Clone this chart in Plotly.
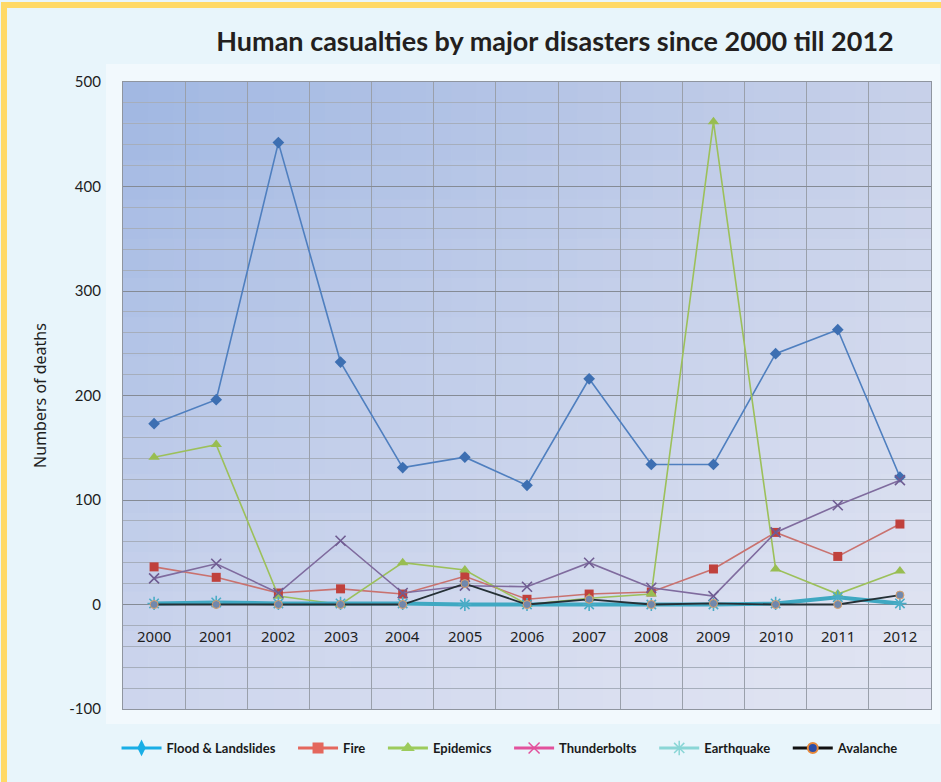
import plotly.graph_objects as go

# Categories and series (deaths per year)
years = ["2000", "2001", "2002", "2003", "2004", "2005", "2006",
         "2007", "2008", "2009", "2010", "2011", "2012"]
flood = [173, 196, 442, 232, 131, 141, 114, 216, 134, 134, 240, 263, 122]
fire = [36, 26, 11, 15, 10, 27, 5, 10, 12, 34, 69, 46, 77]
epidemics = [141, 153, 8, 0, 40, 33, 0, 6, 10, 462, 34, 10, 32]
thunderbolts = [25, 39, 11, 61, 11, 18, 17, 40, 16, 8, 69, 95, 119]
earthquake = [1, 2, 1, 1, 1, 0, 0, 0, 0, 0, 1, 7, 1]
avalanche = [0, 0, 0, 0, 0, 20, 0, 5, 0, 1, 0, 0, 9]
y_ticks = [-100, 0, 100, 200, 300, 400, 500]
y_tick_text = ["-100", "0", "100", "200", "300", "400", "500"]

W, H = 941, 782
ML, MR, MT, MB = 123, 10, 82, 73
PW, PH = W - ML - MR, H - MT - MB


def px_x(px):
    return (px - ML) / PW


def px_y(py):
    return (H - MB - py) / PH


fig = go.Figure()

# (name, data, line colour, line width, marker symbol, marker colour, marker size, marker outline)
series = [
    ("Flood & Landslides", flood, "#4f7fbf", 1.6, "diamond", "#3d6fb2", 9, None),
    ("Fire", fire, "#c9726f", 1.6, "square", "#c0413c", 9, None),
    ("Epidemics", epidemics, "#9cc05a", 1.6, "triangle-up", "#98bd52", 10, None),
    ("Thunderbolts", thunderbolts, "#7f6b9e", 1.6, "x-thin", "#6f5c92", 10, None),
    ("Earthquake", earthquake, "#3fa8c2", 4, "asterisk", "#4bacc6", 11, None),
    ("Avalanche", avalanche, "#253036", 1.8, "circle", "#7088ad", 8, "#d9a06a"),
]

for name, vals, lc, lw, sym, mc, ms, mo in series:
    marker = dict(symbol=sym, size=ms, color=mc)
    if sym in ("x-thin", "asterisk"):
        marker["line"] = dict(color=mc, width=1.6)
    elif mo:
        marker["line"] = dict(color=mo, width=1)
    fig.add_trace(go.Scatter(
        x=years, y=vals, mode="lines+markers", name=name,
        line=dict(color=lc, width=lw), marker=marker, showlegend=False,
    ))

# Legend keys use their own brighter styling
legend_keys = [
    ("Flood & Landslides", "#19aee6", "diamond-tall", "#19aee6", 12, None),
    ("Fire", "#e4675d", "square", "#e4675d", 11, None),
    ("Epidemics", "#9ccb5c", "triangle-up", "#9ccb5c", 12, None),
    ("Thunderbolts", "#e2519c", "x-thin", "#e2519c", 11, None),
    ("Earthquake", "#8ad6d6", "asterisk", "#8ad6d6", 12, None),
    ("Avalanche", "#111111", "circle", "#2c4ea8", 10, "#e8893a"),
]
PAD = "\u00a0" * 4
for name, lc, sym, mc, ms, mo in legend_keys:
    marker = dict(symbol=sym, size=ms, color=mc)
    if sym in ("x-thin", "asterisk"):
        marker["line"] = dict(color=mc, width=1.5)
    elif mo:
        marker["line"] = dict(color=mo, width=2)
    fig.add_trace(go.Scatter(
        x=[None], y=[None], mode="lines+markers", name=name + PAD,
        line=dict(color=lc, width=3), marker=marker, showlegend=True,
    ))

# Year labels sit inside the plot just below the zero line
for i, yr in enumerate(years):
    fig.add_annotation(x=i, y=-30, xref="x", yref="y", text=yr,
                       showarrow=False,
                       font=dict(family="Noto Sans", size=15, color="#1e1e1e"))

shapes = []

# Soft light halo around the plot panel
shapes.append(dict(type="rect", xref="paper", yref="paper",
                   x0=px_x(106), x1=px_x(940), y0=px_y(724), y1=px_y(64),
                   fillcolor="rgba(255,255,255,0.45)", line=dict(width=0),
                   layer="below"))

# Diagonal blue gradient behind the grid
TL, TR = (160, 183, 226), (199, 208, 233)
BL, BR = (206, 214, 237), (227, 230, 243)
NX, NY = 32, 16
for i in range(NX):
    for j in range(NY):
        u = (i + 0.5) / NX
        v = (j + 0.5) / NY  # 0 at bottom
        c = [
            round((1 - u) * (1 - v) * BL[k] + u * (1 - v) * BR[k]
                  + (1 - u) * v * TL[k] + u * v * TR[k])
            for k in range(3)
        ]
        shapes.append(dict(
            type="rect", xref="x domain", yref="y domain",
            x0=i / NX, x1=min(1, (i + 1.3) / NX),
            y0=j / NY, y1=min(1, (j + 1.3) / NY),
            fillcolor="rgb(%d,%d,%d)" % tuple(c), line=dict(width=0),
            layer="below"))

# Yellow frame around the page
shapes.append(dict(type="rect", xref="paper", yref="paper",
                   x0=px_x(4), x1=px_x(990), y0=px_y(830), y1=px_y(5),
                   line=dict(color="#ffd966", width=6),
                   fillcolor="rgba(0,0,0,0)", layer="above"))

fig.update_layout(
    width=W, height=H,
    margin=dict(l=ML, r=MR, t=MT, b=MB),
    paper_bgcolor="#e8f5fb",
    plot_bgcolor="rgba(0,0,0,0)",
    shapes=shapes,
    title=dict(text="Human casualties by major disasters since 2000 till 2012",
               x=px_x(555), xref="paper", xanchor="center",
               y=1 - 42 / H, yanchor="middle",
               font=dict(family="Lato", size=27, color="#231f20", weight="bold")),
    showlegend=True,
    legend=dict(orientation="h", x=-0.008, xanchor="left",
                y=px_y(748), yanchor="middle",
                bgcolor="rgba(0,0,0,0)", itemwidth=40,
                font=dict(family="Lato", size=13, color="#1a1a1a", weight="bold")),
)

fig.update_xaxes(
    type="category", range=[-0.5, 12.5], showticklabels=False,
    showgrid=True, gridcolor="#9aa0ab", gridwidth=1, tickson="boundaries",
    ticks="", showline=True, linecolor="#8f959f", linewidth=1.2, mirror=True,
    zeroline=False,
)
fig.update_yaxes(
    range=[-100, 500], tickvals=y_ticks, ticktext=y_tick_text,
    showgrid=True, gridcolor="#858b95", gridwidth=1.3,
    minor=dict(dtick=20, showgrid=True, gridcolor="#a6aebc", gridwidth=1),
    ticks="outside", ticklen=18, tickcolor="rgba(0,0,0,0)",
    tickfont=dict(family="Lato", size=15, color="#1e1e1e"),
    showline=True, linecolor="#8f959f", linewidth=1.2, mirror=True,
    zeroline=False,
    title=dict(text="Numbers of deaths", standoff=18,
               font=dict(family="Noto Sans", size=16, color="#1e1e1e")),
)

fig.write_html("out.html")
